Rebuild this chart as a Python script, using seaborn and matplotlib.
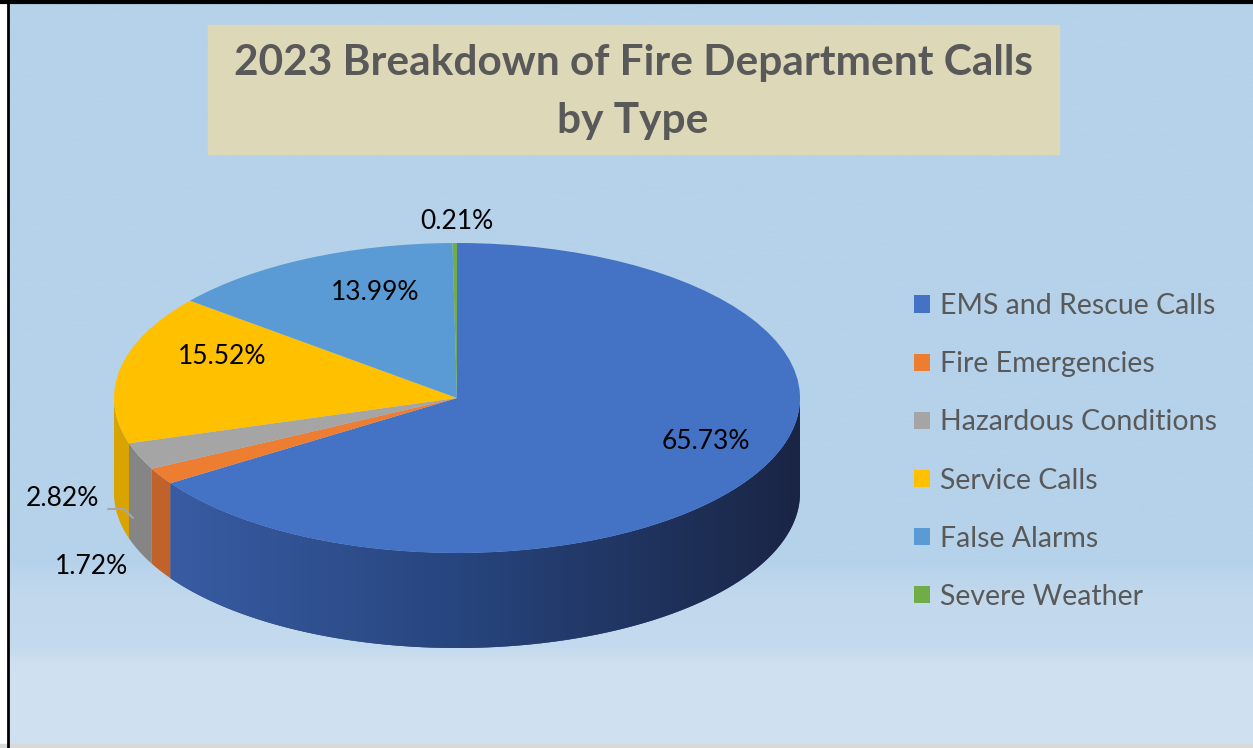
import numpy as np
import matplotlib
matplotlib.use("Agg")
import matplotlib.pyplot as plt
import seaborn as sns
from matplotlib.patches import Rectangle, Polygon
from matplotlib.colors import LinearSegmentedColormap

# data
categories = ["EMS and Rescue Calls", "Fire Emergencies", "Hazardous Conditions",
              "Service Calls", "False Alarms", "Severe Weather"]
shares = [65.73, 1.72, 2.82, 15.52, 13.99, 0.21]
pct_labels = [f"{v:.2f}%" for v in shares]

colors = ["#4472C4", "#ED7D31", "#A5A5A5", "#FFC000", "#5B9BD5", "#70AD47"]
side_colors = ["#2E4A86", "#C0622A", "#858585", "#D9A300", "#3F78AE", "#568A36"]

# label placement (pixel centres, top-left origin)
label_pos = [(706, 441), (92, 566), (62, 498), (222, 356), (375, 292), (457, 221)]

W, H = 1253, 748
sns.set_style("white")
plt.rcParams["font.family"] = ["Lato", "DejaVu Sans"]

fig = plt.figure(figsize=(W / 100, H / 100), dpi=100)
fig.patch.set_facecolor("white")

# background, pixel coordinates
bg = fig.add_axes([0, 0, 1, 1], zorder=0)
bg.set_xlim(0, W)
bg.set_ylim(H, 0)
bg.axis("off")
ys = np.arange(H)
stop_y = [0, 560, 585, 600, 650, 668, H]
stop_c = np.array([[181, 210, 234], [181, 210, 234], [189, 214, 236], [194, 217, 237],
                   [196, 218, 238], [207, 225, 240], [208, 226, 241]]) / 255
grad = np.stack([np.interp(ys, stop_y, stop_c[:, k]) for k in range(3)], axis=1)
bg.imshow(grad[:, None, :], extent=(9, W, H - 4, 4), aspect="auto", zorder=0)
bg.add_patch(Rectangle((0, H - 4), W, 4, color="#D9D9D9", zorder=1))
bg.plot([8, 8], [0, H], color="black", lw=2, zorder=2)
bg.plot([0, W], [2, 2], color="black", lw=3, zorder=2)

# title box
bg.add_patch(Rectangle((208, 25), 851, 129, color="#DDD8B8", zorder=1))
bg.text(633, 63, "2023 Breakdown of Fire Department Calls", ha="center", va="center",
        fontsize=30.5, fontweight="bold", color="#595959", zorder=3)
bg.text(633, 121, "by Type", ha="center", va="center",
        fontsize=30.5, fontweight="bold", color="#595959", zorder=3)

# pie axes: top face ellipse with a side band below
cx, cy, rx, ry, depth_px = 457, 398, 343, 155, 95
depth = depth_px / ry
ax = fig.add_axes([(cx - rx) / W, (H - (cy + ry + depth_px)) / H,
                   2 * rx / W, (2 * ry + depth_px) / H], zorder=2)
wedges, _ = ax.pie(shares, colors=colors, startangle=90, counterclock=False,
                   wedgeprops=dict(linewidth=0, zorder=3))
ax.set_aspect("auto")
ax.axis("off")

blue_side = LinearSegmentedColormap.from_list("side", ["#3C60AA", "#27457E", "#1A2545"])
for w, sc in zip(wedges, side_colors):
    for lo, hi in [(-180, 0), (180, 360), (-540, -360)]:
        a, b = max(w.theta1, lo), min(w.theta2, hi)
        if b <= a:
            continue
        t = np.radians(np.linspace(a, b, 200))
        top = np.column_stack([np.cos(t), np.sin(t)])
        bot = top[::-1] - [0, depth]
        poly = Polygon(np.vstack([top, bot]), closed=True, facecolor=sc,
                       edgecolor="none", zorder=1)
        ax.add_patch(poly)
        if w is wedges[0]:
            gx = np.linspace(0, 1, 256)[None, :]
            im = ax.imshow(gx, cmap=blue_side, extent=(-1, 1, -1 - depth, 1),
                           aspect="auto", zorder=2)
            im.set_clip_path(poly)
ax.set_xlim(-1, 1)
ax.set_ylim(-1 - depth, 1)

# data labels
ov = fig.add_axes([0, 0, 1, 1], zorder=4)
ov.set_xlim(0, W)
ov.set_ylim(H, 0)
ov.axis("off")
for txt, (px, py) in zip(pct_labels, label_pos):
    ov.text(px, py, txt, ha="center", va="center", fontsize=19, color="black")
ov.plot([108, 124, 133], [509, 509, 518], color="#A6A6A6", lw=1.5)

# legend
leg = ov.legend(wedges, categories, loc="upper left", bbox_to_anchor=(914, 293),
                bbox_transform=ov.transData, frameon=False, fontsize=20.5,
                handlelength=0.55, handleheight=0.55, handletextpad=0.35,
                labelspacing=1.13, borderpad=0, borderaxespad=0)
for t in leg.get_texts():
    t.set_color("#595959")

fig.savefig("out.png", dpi=100)
